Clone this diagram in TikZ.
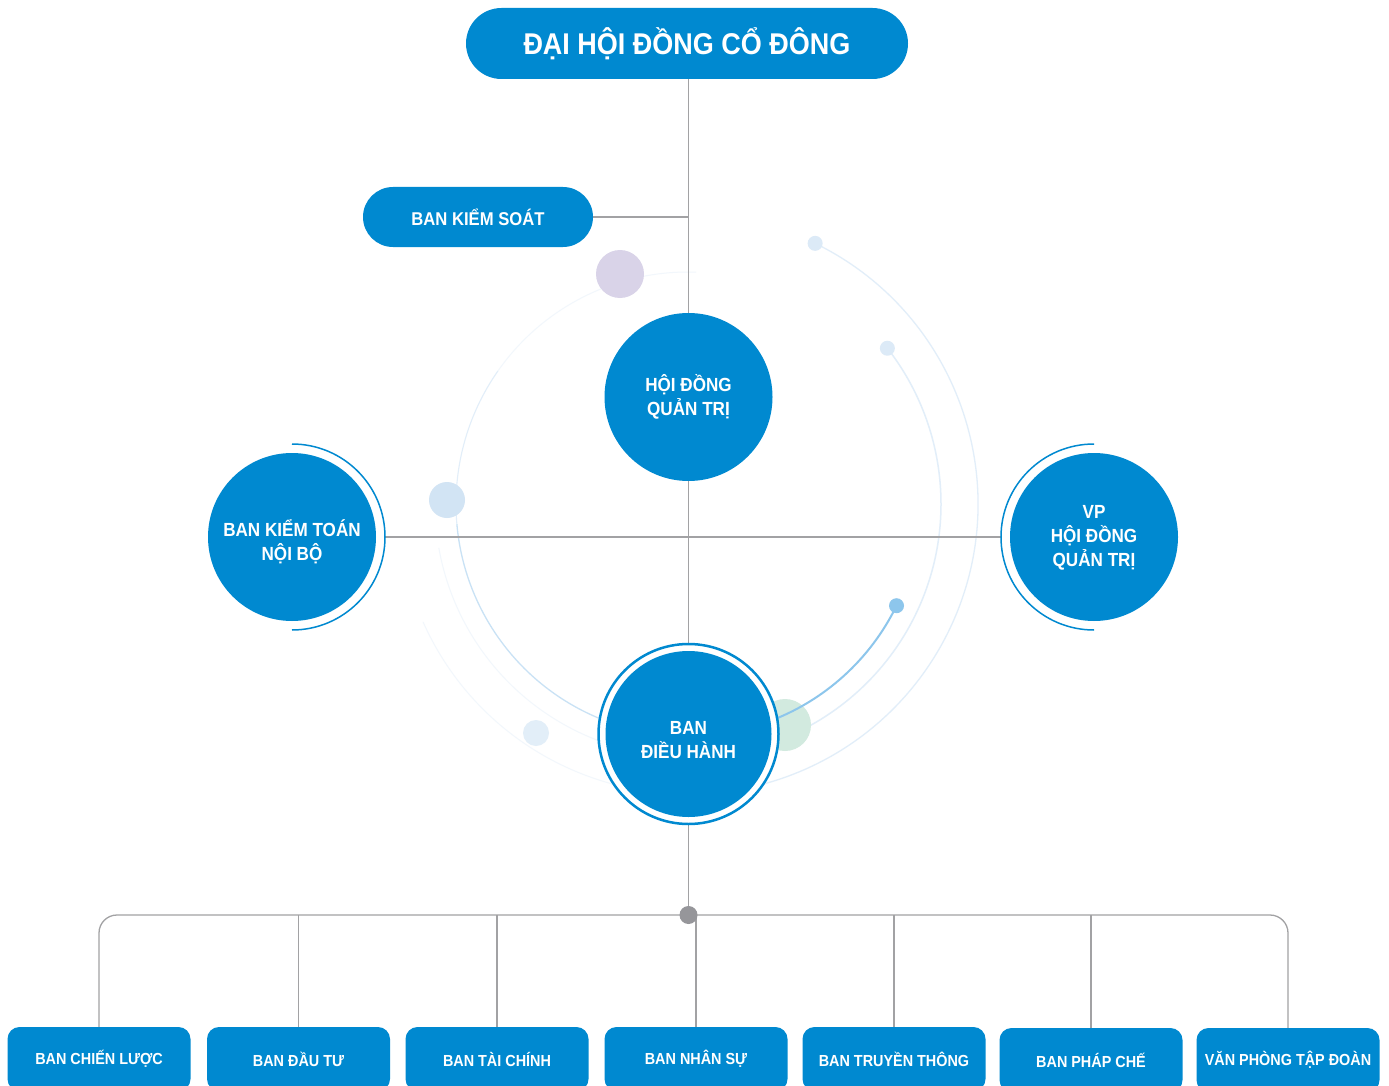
\documentclass[tikz,border=0pt]{standalone}
\usepackage{fontspec}
\newfontfamily\rob{Liberation Sans}[FakeStretch=0.9]
\usetikzlibrary{calc}
\definecolor{mainblue}{HTML}{0089D0}
\definecolor{linegray}{HTML}{A2A2A4}
\definecolor{juncgray}{HTML}{96969A}
\definecolor{arcbright}{HTML}{8DC6EC}
\definecolor{arclight}{HTML}{C9E2F5}
\definecolor{arcfaint}{HTML}{E2EEF9}
\definecolor{arcvfaint}{HTML}{F2F7FC}
\definecolor{dotlight}{HTML}{DCEAF7}
\definecolor{lav}{HTML}{D9D3E8}
\definecolor{mint}{HTML}{D2EADF}
\definecolor{pblue}{HTML}{D2E4F4}
\definecolor{pblue2}{HTML}{E2EEF8}
\newcommand\lowtxt[2]{\raisebox{-#1}[\height][\depth]{\begin{tabular}{@{}c@{}}#2\end{tabular}}}
\pgfdeclarelayer{paper}
\pgfdeclarelayer{deco}
\pgfdeclarelayer{bg}
\pgfsetlayers{paper,deco,bg,main}
\tikzset{
  conn/.style={draw=linegray, line width=1.3pt},
  pillbox/.style={fill=mainblue, text=white, inner sep=0pt},
  bigcirc/.style={circle, fill=mainblue, minimum size=168pt, inner sep=0pt, text=white, align=center,
    font=\rob\bfseries\fontsize{19}{23}\selectfont},
  dept/.style={fill=mainblue, rounded corners=12pt, minimum width=183pt, minimum height=64pt,
    text=white, inner sep=0pt, font=\rob\bfseries\fontsize{16}{19}\selectfont},
  ringarc/.style={draw=mainblue, line width=1.5pt},
}
\begin{document}
\begin{tikzpicture}[x=1pt,y=-1pt]
\useasboundingbox (0,0) rectangle (1389,1086);
\clip (0,0) rectangle (1389,1086);
\begin{pgfonlayer}{paper}
\fill[white] (0,0) rectangle (1389,1086);
\end{pgfonlayer}

% ---------- main nodes ----------
\node[pillbox, rounded corners=35.5pt, minimum width=442pt, minimum height=71pt,
      font=\rob\bfseries\fontsize{30}{36}\selectfont] (dhd) at (687,43.5) {ĐẠI HỘI ĐỒNG CỔ ĐÔNG};
\node[pillbox, rounded corners=30pt, minimum width=230pt, minimum height=60pt,
      font=\rob\bfseries\fontsize{18.5}{22}\selectfont] (ks) at (478,217) {BAN KIỂM SOÁT};
\node[bigcirc] (hdqt) at (688.5,397) {\lowtxt{1pt}{HỘI ĐỒNG\\QUẢN TRỊ}};
\node[bigcirc] (kt) at (292,537) {\lowtxt{6pt}{BAN KIỂM TOÁN\\NỘI BỘ}};
\node[bigcirc] (vp) at (1094,537) {\lowtxt{1pt}{VP\\HỘI ĐỒNG\\QUẢN TRỊ}};
\node[circle, fill=white, draw=mainblue, line width=2.5pt, minimum size=180pt, inner sep=0pt] (bdhring) at (688.5,734) {};
\node[bigcirc, minimum size=166pt] (bdh) at (688.5,734) {\lowtxt{8pt}{BAN\\ĐIỀU HÀNH}};

% rings beside the side circles
\draw[ringarc] (kt.center) ++(-90:93) arc (-90:90:93);
\draw[ringarc] (vp.center) ++(90:93) arc (90:270:93);

% department boxes
\node[dept] (d1) at (99,1059) {BAN CHIẾN LƯỢC};
\node[dept] (d2) at (298.5,1059) {BAN ĐẦU TƯ};
\node[dept] (d3) at (497,1059) {BAN TÀI CHÍNH};
\node[dept] (d4) at (696,1059) {BAN NHÂN SỰ};
\node[dept] (d5) at (894,1059) {BAN TRUYỀN THÔNG};
\node[dept] (d6) at (1091,1060) {BAN PHÁP CHẾ};
\node[dept] (d7) at (1288,1060) {VĂN PHÒNG TẬP ĐOÀN};

\coordinate (jc) at (688.5,915);

% ---------- decoration ----------
\begin{pgfonlayer}{deco}
\coordinate (C) at (688,504);
% r = 290 outer arc
\draw[arcfaint, line width=1.3pt] (C) ++(-64:290) arc (-64:75:290);
\draw[arcvfaint, line width=1pt] (C) ++(75:290) arc (75:156:290);
% r = 253 middle arc
\draw[arcfaint, line width=1.5pt] (C) ++(-38:253) arc (-38:65:253);
\draw[arcvfaint, line width=1pt] (C) ++(65:253) arc (65:170:253);
% r = 232 arc
\draw[arclight, line width=1.3pt] (C) ++(112:232) arc (112:175:232);
\draw[arcfaint, line width=1.1pt] (C) ++(175:232) arc (175:215:232);
\draw[arcvfaint, line width=1pt] (C) ++(215:232) arc (215:272:232);
% decorative discs
\fill[lav] (620,274) circle (24);
\fill[pblue] (447,500) circle (18);
\fill[pblue2] (536,733) circle (13);
\fill[mint] (785,725) circle (26);
% bright arc
\draw[arcbright, line width=2pt] (C) ++(26:232) arc (26:70:232);
% end dots
\fill[dotlight] (C) ++(-64:290) circle (7.5);
\fill[dotlight] (C) ++(-38:253) circle (7.5);
\fill[arcbright] (C) ++(26:232) circle (7.5);
\end{pgfonlayer}

% ---------- connectors ----------
\begin{pgfonlayer}{bg}
\draw[conn] (hdqt |- dhd.south) -- (hdqt);
\draw[conn] (hdqt) -- (bdhring);
\draw[conn] (bdhring) -- (jc);
\draw[conn] (ks) -- (ks -| hdqt);
\draw[conn, shorten <=9pt, shorten >=9pt] (kt.east) -- (vp.west);
\draw[conn, rounded corners=18pt] (d1.north) -- (d1.north |- jc) -- (d7.north |- jc) -- (d7.north);
\foreach \d in {d2,d3,d4,d5,d6} \draw[conn] (\d.north) -- (\d.north |- jc);
\end{pgfonlayer}

\node[circle, fill=juncgray, minimum size=18pt, inner sep=0pt] (junc) at (jc) {};
\end{tikzpicture}
\end{document}
